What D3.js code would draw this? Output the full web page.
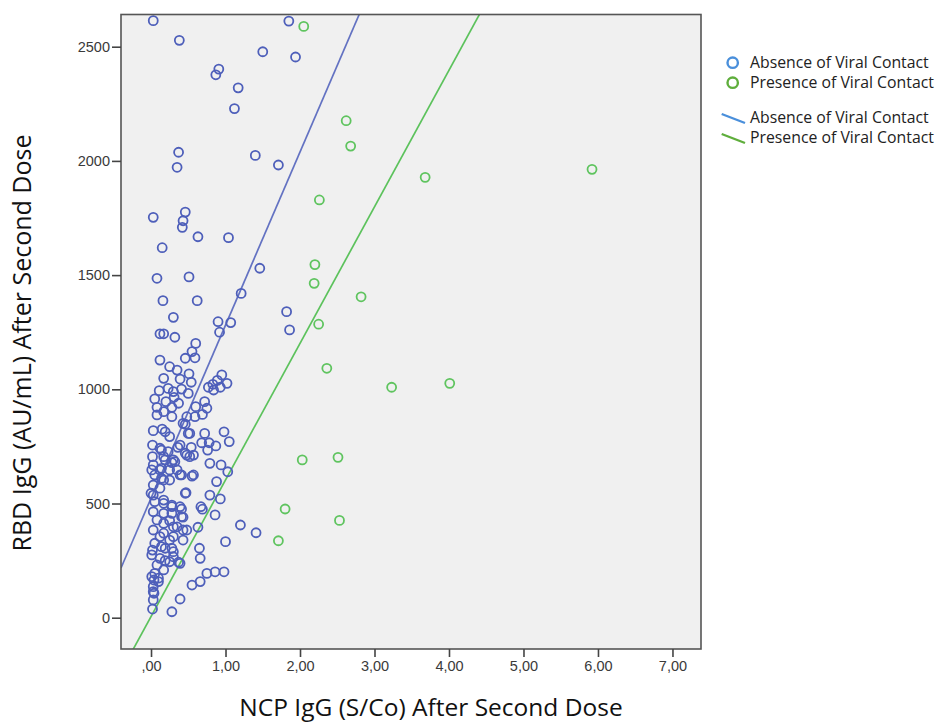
<!DOCTYPE html>
<html>
<head>
<meta charset="utf-8">
<script src="https://cdn.jsdelivr.net/npm/d3@7"></script>
<style>
  body { margin: 0; background: #fff; }
  svg { display: block; }
</style>
</head>
<body>
<svg id="chart" width="936" height="725"></svg>
<script>
// Absence of viral contact: NCP IgG (S/Co) vs RBD IgG (AU/mL)
const absenceNcp = [
  0.03,0.38,1.85,1.50,1.94,0.91,0.87,1.17,1.12,0.37,0.35,1.40,1.71,0.03,0.46,0.43,0.42,0.63,1.04,0.15,
  1.46,0.08,0.51,1.21,0.16,0.62,1.82,1.86,0.30,0.90,1.07,0.92,0.12,0.17,0.32,0.60,0.55,0.46,0.59,0.12,
  0.25,0.35,0.51,0.95,0.89,1.02,0.83,0.77,0.93,0.84,0.17,0.39,0.54,0.11,0.23,0.30,0.41,0.50,0.05,0.20,
  0.31,0.37,0.08,0.28,0.60,0.72,0.75,0.08,0.28,0.48,0.59,0.69,0.46,0.03,0.15,0.19,0.72,0.98,0.52,1.05,
  0.78,0.68,0.87,0.54,0.36,0.02,0.14,0.46,0.52,0.76,0.02,0.17,0.28,0.32,0.79,0.94,1.03,0.03,0.14,0.25,
  0.39,0.57,0.05,0.17,0.88,0.03,0.12,0.47,0.79,0.93,0.03,0.17,0.05,0.28,0.41,0.67,0.69,0.86,0.03,0.17,
  0.43,0.08,0.25,0.35,0.48,0.63,1.20,1.41,1.00,0.03,0.17,0.30,0.43,0.05,0.14,0.28,0.02,0.65,0.66,0.30,
  0.19,0.08,0.37,0.17,0.05,0.75,0.86,0.98,0.66,0.55,0.04,0.03,0.10,0.04,0.39,0.03,0.02,0.28,
  0.17,0.01,0.00,0.01,0.12,0.01,0.03,0.17,0.12,0.19,0.14,0.19,0.12,0.12,0.10,0.17,0.25,0.39,0.23,0.30,
  0.35,0.41,0.25,0.46,0.28,0.39,0.28,0.41,0.30,0.43,0.25,0.30,0.25,0.39,0.48,0.57,0.55,0.50,0.43
];
const absenceRbd = [
  2614,2528,2612,2478,2455,2402,2377,2320,2229,2038,1972,2024,1982,1753,1776,1738,1709,1668,1664,1620,
  1530,1486,1492,1420,1388,1388,1340,1260,1315,1296,1292,1250,1243,1243,1228,1201,1165,1136,1138,1128,
  1099,1084,1068,1063,1039,1026,1022,1009,1009,997,1048,1045,1031,994,1004,990,1001,982,958,946,
  965,939,921,921,924,946,917,888,880,880,880,890,847,819,826,814,807,814,807,771,
  766,766,752,746,746,756,734,720,705,734,705,705,679,683,676,669,639,669,654,647,
  625,625,625,603,596,581,567,547,537,520,537,515,508,486,476,486,475,450,464,457,
  440,428,425,398,384,396,406,372,333,384,370,355,340,326,311,304,296,304,260,267,
  250,231,243,209,194,194,201,201,158,143,165,136,158,107,82,78,38,26,
  902,647,545,275,260,180,114,413,355,304,610,691,742,647,173,501,793,756,727,691,
  647,625,603,545,493,486,457,442,398,384,340,289,245,238,712,712,620,807,851
];

// Presence of viral contact
const presenceNcp = [2.05,2.62,2.68,3.68,5.92,2.26,2.20,2.19,2.82,2.25,2.36,3.23,4.01,2.03,2.51,1.80,2.53,1.71];
const presenceRbd = [2589,2176,2065,1928,1963,1829,1546,1464,1405,1285,1092,1009,1026,691,702,476,426,337];

// fit lines (intercept, slope) per group
const groups = ["Absence of Viral Contact", "Presence of Viral Contact"];
const fitIntercepts = [523, 5];
const fitSlopes = [758, 598];

const xTicks = [0, 1, 2, 3, 4, 5, 6, 7];
const xTickLabels = [",00", "1,00", "2,00", "3,00", "4,00", "5,00", "6,00", "7,00"];
const yTicks = [0, 500, 1000, 1500, 2000, 2500];
const yTickLabels = ["0", "500", "1000", "1500", "2000", "2500"];

const pointColors = ["#4e5fba", "#5fc45f"];
const lineColors = ["#6372c2", "#5cc25c"];
const legendColors = ["#4a8fdb", "#5fae3c"];

const svg = d3.select("#chart");
const plot = { left: 121, right: 701, top: 14.5, bottom: 649 };

const x = d3.scaleLinear().domain([-0.403, 7.383]).range([plot.left, plot.right]);
const y = d3.scaleLinear().domain([-137, 2641]).range([plot.bottom, plot.top]);

// plot background
svg.append("rect")
  .attr("x", plot.left).attr("y", plot.top)
  .attr("width", plot.right - plot.left).attr("height", plot.bottom - plot.top)
  .attr("fill", "#f0f0f0");

svg.append("clipPath").attr("id", "clip")
  .append("rect")
  .attr("x", plot.left).attr("y", plot.top)
  .attr("width", plot.right - plot.left).attr("height", plot.bottom - plot.top);

const inner = svg.append("g").attr("clip-path", "url(#clip)");

// fit lines
groups.forEach((g, i) => {
  const xs = x.domain();
  inner.append("line")
    .attr("x1", x(xs[0])).attr("y1", y(fitIntercepts[i] + fitSlopes[i] * xs[0]))
    .attr("x2", x(xs[1])).attr("y2", y(fitIntercepts[i] + fitSlopes[i] * xs[1]))
    .attr("stroke", lineColors[i])
    .attr("stroke-width", 1.7);
});

// points
const absence = absenceNcp.map((v, i) => [v, absenceRbd[i]]);
const presence = presenceNcp.map((v, i) => [v, presenceRbd[i]]);

[absence, presence].forEach((pts, i) => {
  inner.append("g")
    .selectAll("circle")
    .data(pts)
    .join("circle")
    .attr("cx", (d) => x(d[0]))
    .attr("cy", (d) => y(d[1]))
    .attr("r", 4.5)
    .attr("fill", "none")
    .attr("stroke", pointColors[i])
    .attr("stroke-width", 1.8);
});

// frame
svg.append("rect")
  .attr("x", plot.left).attr("y", plot.top)
  .attr("width", plot.right - plot.left).attr("height", plot.bottom - plot.top)
  .attr("fill", "none")
  .attr("stroke", "#555")
  .attr("stroke-width", 1.6);

// axes
const xAxis = svg.append("g")
  .attr("transform", `translate(0,${plot.bottom})`)
  .call(d3.axisBottom(x).tickValues(xTicks).tickSize(8).tickPadding(4)
    .tickFormat((d, i) => xTickLabels[i]));

const yAxis = svg.append("g")
  .attr("transform", `translate(${plot.left},0)`)
  .call(d3.axisLeft(y).tickValues(yTicks).tickSize(9).tickPadding(2)
    .tickFormat((d, i) => yTickLabels[i]));

[xAxis, yAxis].forEach((ax) => {
  ax.select(".domain").remove();
  ax.selectAll(".tick line").attr("stroke", "#444").attr("stroke-width", 1.6);
  ax.selectAll(".tick text")
    .attr("fill", "#3a3a3a")
    .style("font-family", "'Liberation Sans', Arial, sans-serif")
    .style("font-size", "14.5px");
});

// axis titles
svg.append("text")
  .attr("x", 431).attr("y", 716)
  .attr("text-anchor", "middle")
  .style("font-family", "'Open Sans', sans-serif")
  .style("font-size", "24.5px")
  .attr("fill", "#111")
  .text("NCP IgG (S/Co) After Second Dose");

svg.append("text")
  .attr("transform", "translate(31,343) rotate(-90)")
  .attr("text-anchor", "middle")
  .style("font-family", "'Open Sans', sans-serif")
  .style("font-size", "25px")
  .attr("fill", "#111")
  .text("RBD IgG (AU/mL) After Second Dose");

// legend
const legend = svg.append("g").style("font-family", "'Open Sans', sans-serif").style("font-size", "15.8px");

groups.forEach((g, i) => {
  const cy = 62.7 + i * 20;
  legend.append("circle")
    .attr("cx", 732.7).attr("cy", cy).attr("r", 5.2)
    .attr("fill", "none").attr("stroke", legendColors[i]).attr("stroke-width", 2.4);
  legend.append("text")
    .attr("x", 750).attr("y", cy).attr("dy", "0.35em")
    .attr("fill", "#222").text(g);
});

groups.forEach((g, i) => {
  const cy = 117 + i * 20;
  legend.append("line")
    .attr("x1", 721.7).attr("y1", cy - 3)
    .attr("x2", 745).attr("y2", cy + 6)
    .attr("stroke", legendColors[i]).attr("stroke-width", 2.4);
  legend.append("text")
    .attr("x", 750).attr("y", cy).attr("dy", "0.35em")
    .attr("fill", "#222").text(g);
});
</script>
</body>
</html>
